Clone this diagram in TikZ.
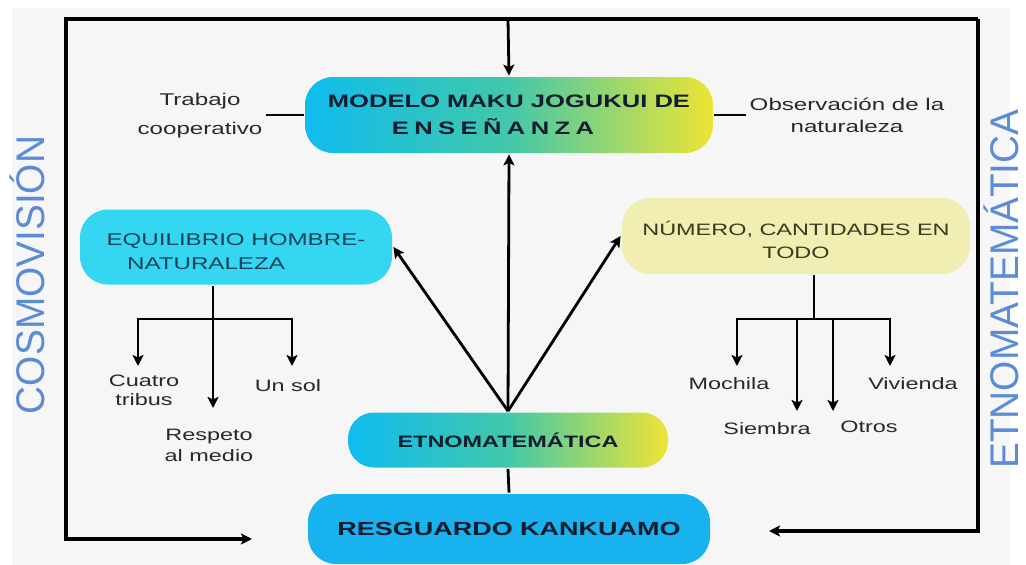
\documentclass[tikz,border=0pt]{standalone}
\usepackage{fontspec}
\setmainfont{Liberation Sans}[FakeStretch=1.42]
\newfontfamily\sidefont{Liberation Sans}[FakeStretch=0.97]
\usepackage{xcolor}
\usepackage{tikz}
\usetikzlibrary{positioning,arrows.meta}
\definecolor{cyanbox}{RGB}{14,188,238}
\definecolor{greenmid}{RGB}{66,200,170}
\definecolor{yellowbox}{RGB}{238,228,52}
\definecolor{skybox}{RGB}{52,214,242}
\definecolor{palebox}{RGB}{240,238,178}
\definecolor{bluebox}{RGB}{24,178,238}
\definecolor{sideblue}{RGB}{92,140,212}
\definecolor{inktxt}{RGB}{40,40,40}
\definecolor{boldtxt}{RGB}{18,30,48}
\definecolor{bggray}{RGB}{246,246,246}

\begin{document}
\begin{tikzpicture}[x=1pt,y=-1pt,>={Stealth[length=11pt,width=11pt,inset=2.5pt]},line width=2.8pt,
  box/.style={rounded corners=28pt,align=center,inner sep=0pt},
  grad/.style={box,left color=cyanbox,right color=yellowbox,middle color=greenmid,
    text=boldtxt,font=\bfseries\fontsize{18}{27}\selectfont},
  leaf/.style={text=inktxt,align=center,inner sep=2pt,font=\fontsize{16.5}{21}\selectfont},
  side/.style={text=sideblue,inner sep=0pt,font=\sidefont\fontsize{40}{40}\selectfont}]
	\useasboundingbox (0,0) rectangle (1026,565);
	\fill[bggray] (12,8) rectangle (1010,565);

	% main boxes
	\node[grad,minimum width=408,minimum height=76] (modelo) at (509,115)
		{MODELO MAKU JOGUKUI DE\\{\addfontfeature{LetterSpace=30}ENSEÑANZA}\hspace*{32pt}};
	\node[box,fill=skybox,minimum width=312,minimum height=75,text={rgb,255:red,24;green,66;blue,88},
		font=\fontsize{17}{24}\selectfont] (equil) at (236,247) {\rule{0pt}{22pt}EQUILIBRIO HOMBRE-\\NATURALEZA\hspace*{60pt}};
	\node[box,fill=palebox,minimum width=348,minimum height=76,text={rgb,255:red,58;green,58;blue,30},
		font=\fontsize{16.5}{22.5}\selectfont] (numero) at (796,236) {\rule{0pt}{22pt}NÚMERO, CANTIDADES EN\\TODO};
	\node[grad,rounded corners=26pt,minimum width=320,minimum height=55,
		font=\bfseries\fontsize{16.5}{20}\selectfont] (etno) at (508,440) {ETNOMATEMÁTICA};
	\node[box,fill=bluebox,minimum width=402,minimum height=70,text=boldtxt,
		font=\bfseries\fontsize{19}{24}\selectfont] (resg) at (509,529) {RESGUARDO KANKUAMO};

	% side labels
	\node[side,rotate=90] (cosmo) at (27,275) {COSMOVISIÓN};
	\node[side,rotate=90] (etnoside) at (1001,289) {ETNOMATEMÁTICA};
	\node[leaf,font=\fontsize{17}{29}\selectfont] (trabajo) at (200,116) {Trabajo\\cooperativo};
	\node[leaf,font=\fontsize{17}{22}\selectfont] (obs) at (847,115) {Observación de la\\naturaleza};

	% frame
	\coordinate (ftl) at (66,19);
	\coordinate (ftr) at (978,19);
	\coordinate (ftop) at (508,19);
	\coordinate (fbl) at (66,539);
	\coordinate (fbr) at (978,531);
	\coordinate (lin) at (252,539);
	\coordinate (rin) at (769,531);
	\draw[->,line width=3.2pt] (ftr) -- (ftl) -- (fbl) -- (lin);
	\draw[->,line width=3.2pt] (ftr) -- (fbr) -- (rin);
	\draw[->] (ftop) -- (modelo.north);
	\draw (modelo.west -| trabajo.east) -- (modelo.west);
	\draw (modelo.east) -- (modelo.east -| obs.west);

	\draw[->] (etno.north) -- (modelo.south);
	\draw[->] (etno.north) -- (equil.east);
	\draw[->] (etno.north) -- (numero.west);
	\draw (etno.south) -- (resg.north);

	% left tree
	\coordinate (lj) at (213,319);
	\coordinate (lt1) at (138,366);
	\coordinate (lt2) at (213,408);
	\coordinate (lt3) at (292,366);
	\draw (equil.south -| lj) -- (lj);
	\draw[->] (lj) -| (lt1);
	\draw[->] (lj) -| (lt3);
	\draw[->] (lj) -- (lt2);
	\node[leaf,font=\fontsize{16.5}{19}\selectfont,below=6pt of lt1,xshift=6] (cuatro) {Cuatro\\tribus};
	\node[leaf,below=18pt of lt2,xshift=-4] (respeto) {Respeto\\al medio};
	\node[leaf,below=10pt of lt3,xshift=-4] (unsol) {Un sol};

	% right tree
	\coordinate (rj) at (814,319);
	\coordinate (rt1) at (737,366);
	\coordinate (rt2) at (797,411);
	\coordinate (rt3) at (833,411);
	\coordinate (rt4) at (890,366);
	\draw (numero.south -| rj) -- (rj);
	\draw[->] (rj) -| (rt1);
	\draw[->] (rj) -| (rt4);
	\draw[->] (rt2 |- rj) -- (rt2);
	\draw[->] (rt3 |- rj) -- (rt3);
	\node[leaf,below=8pt of rt1,xshift=-8] (mochila) {Mochila};
	\node[leaf,below=8pt of rt2,xshift=-30] (siembra) {Siembra};
	\node[leaf,below=7pt of rt3,xshift=36] (otros) {Otros};
	\node[leaf,below=8pt of rt4,xshift=23] (vivienda) {Vivienda};
\end{tikzpicture}
\end{document}
